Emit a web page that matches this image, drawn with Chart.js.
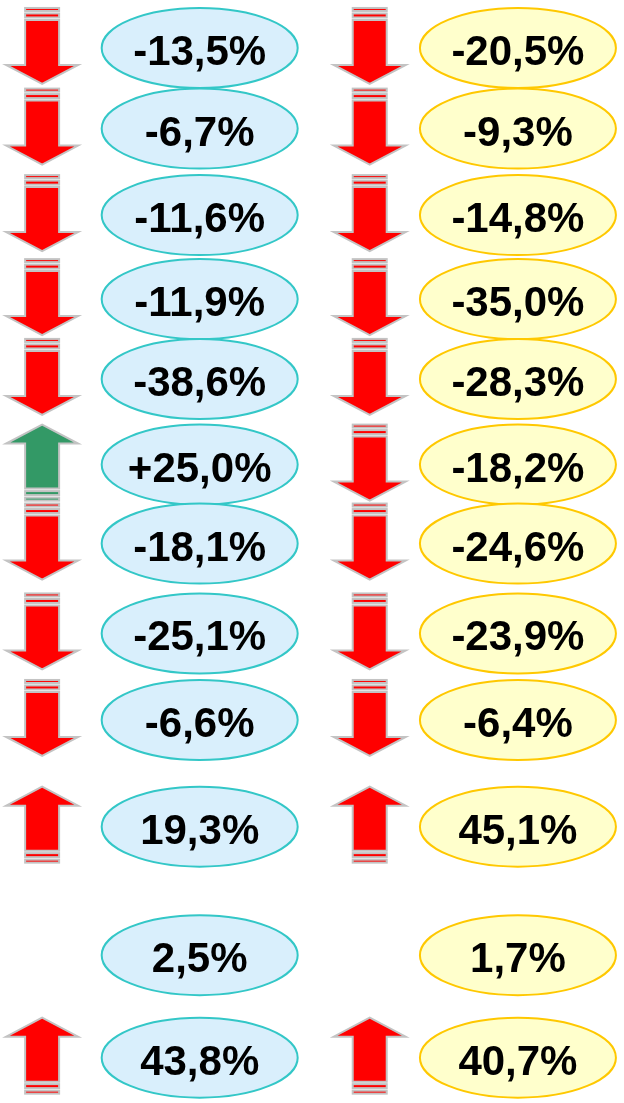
<!DOCTYPE html>
<html>
<head>
<meta charset="utf-8">
<script src="https://cdn.jsdelivr.net/npm/chart.js@4/dist/chart.umd.min.js"></script>
<style>
    body { margin: 0; background: #fff; }
    #wrap { width: 624px; height: 1103px; }
</style>
</head>
<body>
<div id="wrap"><canvas id="changesChart" width="624" height="1103"></canvas></div>
<script>
// percentage change per row, left (blue) and right (yellow) column
const leftChanges = [-13.5, -6.7, -11.6, -11.9, -38.6, 25.0, -18.1, -25.1, -6.6, 19.3, 2.5, 43.8];
const rightChanges = [-20.5, -9.3, -14.8, -35.0, -28.3, -18.2, -24.6, -23.9, -6.4, 45.1, 1.7, 40.7];

// arrow shown beside each value (null = no arrow)
const leftArrows = ['down', 'down', 'down', 'down', 'down', 'upGood', 'down', 'down', 'down', 'up', null, 'up'];
const rightArrows = ['down', 'down', 'down', 'down', 'down', 'down', 'down', 'down', 'down', 'up', null, 'up'];

// rows where the value is written with an explicit plus sign
const leftPlusRows = [5];
const rightPlusRows = [];

// vertical slot of each row (last three rows sit lower, after a gap)
const rowSlots = [0, 0.96, 1.99, 2.99, 3.94, 4.96, 5.9, 6.97, 8, 9.27, 10.8, 12.02];

// column slots on the x scale
const COL_LEFT_ARROW = 0.27;
const COL_LEFT_VALUE = 1.28;
const COL_RIGHT_ARROW = 2.37;
const COL_RIGHT_VALUE = 3.32;

function formatChange(v, i, plusRows) {
    const sign = plusRows.includes(i) && v > 0 ? '+' : '';
    return sign + v.toFixed(1).replace('.', ',') + '%';
}

function arrowPoints(arrows, col) {
    const pts = [];
    arrows.forEach((a, i) => {
        if (a) pts.push({ x: col, y: rowSlots[i], kind: a });
    });
    return pts;
}

function valuePoints(values, col, plusRows) {
    return values.map((v, i) => ({ x: col, y: rowSlots[i], text: formatChange(v, i, plusRows) }));
}

const arrowColors = { down: '#FF0000', up: '#FF0000', upGood: '#339966' };

function drawArrow(ctx, cx, cy, kind) {
    const L = 76, sw = 34, hw = 72, hl = 19;
    ctx.save();
    ctx.translate(cx, cy - 2);
    if (kind !== 'down') ctx.scale(1, -1);
    const t = -L / 2;
    ctx.fillStyle = arrowColors[kind];
    ctx.strokeStyle = '#C3C3C3';
    ctx.lineWidth = 2;
    ctx.lineJoin = 'miter';

    // the two thin stripes at the tail
    ctx.fillRect(-sw / 2, t, sw, 3);
    ctx.strokeRect(-sw / 2, t, sw, 3);
    ctx.fillRect(-sw / 2, t + 5.5, sw, 4);
    ctx.strokeRect(-sw / 2, t + 5.5, sw, 4);

    // body + head
    ctx.beginPath();
    ctx.moveTo(-sw / 2, t + 12);
    ctx.lineTo(sw / 2, t + 12);
    ctx.lineTo(sw / 2, t + L - hl);
    ctx.lineTo(hw / 2, t + L - hl);
    ctx.lineTo(0, t + L);
    ctx.lineTo(-hw / 2, t + L - hl);
    ctx.lineTo(-sw / 2, t + L - hl);
    ctx.closePath();
    ctx.fill();
    ctx.stroke();
    ctx.restore();
}

function drawBubble(ctx, cx, cy, text, fill, stroke) {
    ctx.save();
    ctx.beginPath();
    ctx.ellipse(cx, cy, 98, 40, 0, 0, Math.PI * 2);
    ctx.fillStyle = fill;
    ctx.fill();
    ctx.lineWidth = 2;
    ctx.strokeStyle = stroke;
    ctx.stroke();

    ctx.fillStyle = '#000';
    ctx.font = 'bold 42px "Liberation Sans", Arial, sans-serif';
    ctx.textAlign = 'center';
    ctx.textBaseline = 'alphabetic';
    ctx.fillText(text, cx, cy + 17);
    ctx.restore();
}

const shapesPlugin = {
    id: 'shapes',
    afterDatasetsDraw(chart) {
        const ctx = chart.ctx;
        chart.data.datasets.forEach((ds, di) => {
            const meta = chart.getDatasetMeta(di);
            meta.data.forEach((el, i) => {
                const p = ds.data[i];
                if (ds.shape === 'arrow') {
                    drawArrow(ctx, el.x, el.y, p.kind);
                } else {
                    drawBubble(ctx, el.x, el.y, p.text, ds.bubbleFill, ds.bubbleStroke);
                }
            });
        });
    }
};

const ctx = document.getElementById('changesChart');

new Chart(ctx, {
    type: 'scatter',
    data: {
        datasets: [
            { shape: 'arrow', data: arrowPoints(leftArrows, COL_LEFT_ARROW), pointRadius: 0 },
            { shape: 'bubble', data: valuePoints(leftChanges, COL_LEFT_VALUE, leftPlusRows), pointRadius: 0,
              bubbleFill: '#D9EFFC', bubbleStroke: '#33C7C7' },
            { shape: 'arrow', data: arrowPoints(rightArrows, COL_RIGHT_ARROW), pointRadius: 0 },
            { shape: 'bubble', data: valuePoints(rightChanges, COL_RIGHT_VALUE, rightPlusRows), pointRadius: 0,
              bubbleFill: '#FFFFCC', bubbleStroke: '#FFC800' }
        ]
    },
    options: {
        responsive: false,
        devicePixelRatio: 1,
        animation: false,
        layout: { padding: 0 },
        plugins: {
            legend: { display: false },
            tooltip: { enabled: false }
        },
        scales: {
            x: { type: 'linear', min: 0, max: 4, display: false },
            y: { type: 'linear', min: -0.571, max: 12.56, reverse: true, display: false }
        }
    },
    plugins: [shapesPlugin]
});
</script>
</body>
</html>
